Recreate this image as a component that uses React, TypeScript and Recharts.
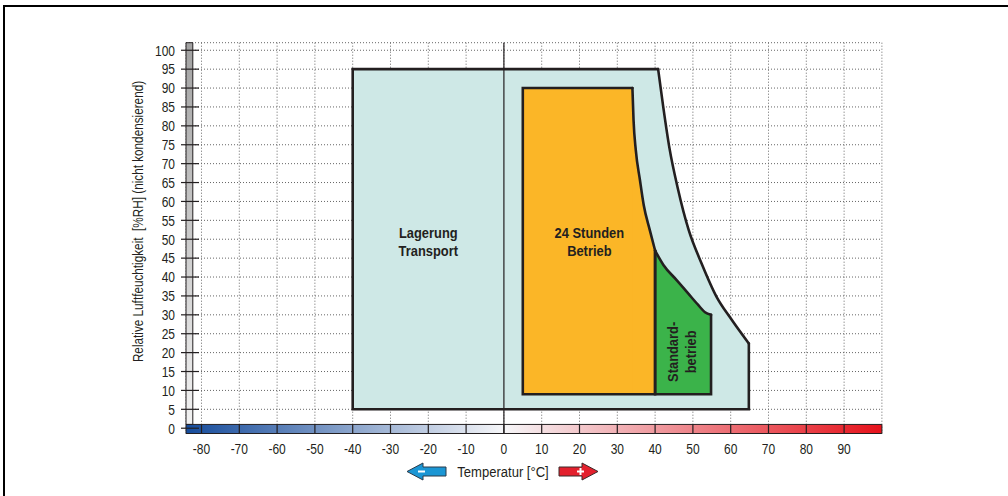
import React from "react";
import {
  ComposedChart,
  Area,
  Line,
  XAxis,
  YAxis,
  CartesianGrid,
  ReferenceArea,
  ReferenceLine,
  ReferenceDot,
} from "recharts";

const FONT = '"Liberation Sans", Arial, Helvetica, sans-serif';
const INK = "#231f20";

// axes
const tempTicks = [-80, -70, -60, -50, -40, -30, -20, -10, 0, 10, 20, 30, 40, 50, 60, 70, 80, 90];
const rhTicks = [0, 5, 10, 15, 20, 25, 30, 35, 40, 45, 50, 55, 60, 65, 70, 75, 80, 85, 90, 95, 100];
const tempDomain = [-84.1, 100];
const rhDomain = [-1.4, 102];

// Lagerung / Transport: flat top from -40 °C, then the falling edge
const transportLeft = -40;
const transportBottom = 5;
const transportCurveT = [40.8, 42.2, 43.8, 46.0, 48.9, 52.3, 56.3, 59.9, 64.8];
const transportCurveRH = [95, 84.7, 74.1, 63.5, 52.4, 43.6, 34.7, 29.2, 22.4];

// 24 Stunden Betrieb
const betriebLeft = 5;
const betriebBottom = 9;
const betriebCurveT = [34, 34.3, 34.9, 36.0, 37.0, 38.6, 40];
const betriebCurveRH = [90, 81.5, 73.5, 65.6, 59, 52.4, 47];

// Standardbetrieb
const standardBottom = 9;
const standardCurveT = [40, 42.2, 45.7, 48.8, 51.4, 53.2, 54.8];
const standardCurveRH = [47, 43.2, 39.2, 35.6, 32.6, 30.7, 30];

const zoneLabels = [
  { x: -20, y: 49.4, lines: ["Lagerung", "Transport"], rotate: false },
  { x: 22.6, y: 49.4, lines: ["24 Stunden", "Betrieb"], rotate: false },
  { x: 47, y: 20.2, lines: ["Standard-", "betrieb"], rotate: true },
];

// filled band under the curved edge
const curveFill = (ts: number[], rhs: number[], bottom: number) =>
  ts.map((t, i) => ({ x: t, r: [bottom, rhs[i]] }));

// rectangular part left of the curve (runs one point into it so no seam shows)
const rectFill = (left: number, ts: number[], rhs: number[], bottom: number) => [
  { x: left, r: [bottom, rhs[0]] },
  { x: ts[0], r: [bottom, rhs[0]] },
  { x: ts[1], r: [bottom, rhs[1]] },
];

const curveLine = (ts: number[], rhs: number[]) => ts.map((t, i) => ({ x: t, y: rhs[i] }));

// straight edges: right side down, bottom, left side up, top to the curve
const edgeLine = (left: number, ts: number[], rhs: number[], bottom: number) => {
  const n = ts.length - 1;
  return [
    { x: ts[n], y: rhs[n] },
    { x: ts[n], y: bottom },
    { x: left, y: bottom },
    { x: left, y: rhs[0] },
    { x: ts[0], y: rhs[0] },
  ];
};

function XTick({ x, y, payload }: any) {
  return (
    <g>
      <line x1={x} x2={x} y1={y - 9.5} y2={y} stroke={INK} strokeWidth={1.2} />
      <text
        transform={`translate(${x},${y + 20}) scale(0.8,1)`}
        textAnchor="middle"
        fontSize={15}
        fontFamily={FONT}
        fill={INK}
      >
        {payload.value}
      </text>
    </g>
  );
}

function YTick({ x, y, payload }: any) {
  return (
    <g>
      <line x1={x - 5} x2={x + 13} y1={y} y2={y} stroke={INK} strokeWidth={1.2} />
      <text
        transform={`translate(${x - 11},${y + 5.3}) scale(0.8,1)`}
        textAnchor="end"
        fontSize={15}
        fontFamily={FONT}
        fill={INK}
      >
        {payload.value}
      </text>
    </g>
  );
}

function YLabel() {
  const cx = 138;
  const cy = 221.5;
  return (
    <text
      transform={`translate(${cx},${cy}) rotate(-90) scale(0.81,1)`}
      textAnchor="middle"
      dominantBaseline="central"
      fontSize={14.5}
      fontFamily={FONT}
      fill={INK}
      style={{ whiteSpace: "pre" }}
    >
      Relative Luftfeuchtigkeit  [%RH] (nicht kondensierend)
    </text>
  );
}

function XLabel({ viewBox }: any) {
  const cx = viewBox.x + 317;
  const cy = viewBox.y + 38;
  const blue = [
    [cx - 96, cy], [cx - 80, cy - 8.5], [cx - 80, cy - 4.5], [cx - 57, cy - 4.5],
    [cx - 57, cy + 4.5], [cx - 80, cy + 4.5], [cx - 80, cy + 8.5],
  ];
  const red = [
    [cx + 95, cy], [cx + 79, cy - 8.5], [cx + 79, cy - 4.5], [cx + 56, cy - 4.5],
    [cx + 56, cy + 4.5], [cx + 79, cy + 4.5], [cx + 79, cy + 8.5],
  ];
  return (
    <g>
      <polygon points={blue.map((p) => p.join(",")).join(" ")} fill="#1b96d4" stroke="#2a3a4a" strokeWidth={1} />
      <line x1={cx - 85} x2={cx - 78} y1={cy} y2={cy} stroke="#fff" strokeWidth={2} />
      <polygon points={red.map((p) => p.join(",")).join(" ")} fill="#e3202d" stroke="#3a2a2a" strokeWidth={1} />
      <line x1={cx + 74} x2={cx + 81} y1={cy} y2={cy} stroke="#fff" strokeWidth={2} />
      <line x1={cx + 77.5} x2={cx + 77.5} y1={cy - 3.5} y2={cy + 3.5} stroke="#fff" strokeWidth={2} />
      <text
        transform={`translate(${cx},${cy + 5}) scale(0.87,1)`}
        textAnchor="middle"
        fontSize={15}
        fontFamily={FONT}
        fill={INK}
      >
        Temperatur [°C]
      </text>
    </g>
  );
}

function ZoneText({ viewBox, lines, rotate }: any) {
  const cx = viewBox.x + viewBox.width / 2;
  const cy = viewBox.y + viewBox.height / 2;
  const gap = rotate ? 18.5 : 17.7;
  return (
    <g transform={`translate(${cx},${cy}) ${rotate ? "rotate(-90)" : ""} scale(0.86,1)`}>
      <text textAnchor="middle" dominantBaseline="central" fontSize={15} fontWeight="bold" fontFamily={FONT} fill={INK}>
        {lines.map((s: string, i: number) => (
          <tspan key={s} x={0} y={(i - (lines.length - 1) / 2) * gap}>
            {s}
          </tspan>
        ))}
      </text>
    </g>
  );
}

const fillProps = { type: "linear" as const, fillOpacity: 1, stroke: "none", isAnimationActive: false, dataKey: "r" };
const edgeProps = {
  dataKey: "y",
  stroke: INK,
  strokeWidth: 2.6,
  strokeLinecap: "round" as const,
  dot: false,
  isAnimationActive: false,
};

export default function App() {
  return (
    <div style={{ position: "absolute", left: 0, top: 0, width: 1008, height: 496, overflow: "hidden", background: "#fff" }}>
      <div
        style={{
          position: "absolute",
          left: 3,
          top: 5,
          width: 1100,
          height: 600,
          borderLeft: "2px solid #000",
          borderTop: "2px solid #000",
        }}
      />
      <ComposedChart
        width={1008}
        height={496}
        margin={{ top: 42.7, right: 126.1, bottom: 22.5, left: 126 }}
        style={{ position: "absolute", left: 0, top: 0 }}
      >
        <defs>
          <linearGradient id="rhBar" x1="0" y1="0" x2="0" y2="1">
            <stop offset="0%" stopColor="#a2a2a2" />
            <stop offset="100%" stopColor="#f2f2f2" />
          </linearGradient>
          <linearGradient id="tempBar" x1="0" y1="0" x2="1" y2="0">
            <stop offset="0%" stopColor="#164c9c" />
            <stop offset="45.7%" stopColor="#f6f6f8" />
            <stop offset="100%" stopColor="#e6121b" />
          </linearGradient>
        </defs>
        <CartesianGrid stroke="#666" strokeDasharray="1 2" />
        <XAxis
          type="number"
          dataKey="x"
          domain={tempDomain}
          ticks={tempTicks}
          allowDataOverflow
          interval={0}
          axisLine={false}
          tickLine={false}
          tickSize={0}
          tickMargin={0}
          tick={<XTick />}
          height={40}
          label={<XLabel />}
        />
        <YAxis
          type="number"
          domain={rhDomain}
          ticks={rhTicks}
          allowDataOverflow
          interval={0}
          axisLine={false}
          tickLine={false}
          tickSize={0}
          tickMargin={0}
          tick={<YTick />}
          width={60}
          label={<YLabel />}
        />
        <Area
          {...fillProps}
          data={rectFill(transportLeft, transportCurveT, transportCurveRH, transportBottom)}
          fill="#cee8e6"
        />
        <Area
          {...fillProps}
          type="monotone"
          data={curveFill(transportCurveT, transportCurveRH, transportBottom)}
          fill="#cee8e6"
        />
        <ReferenceLine x={0} stroke={INK} strokeWidth={1.2} />
        <Area
          {...fillProps}
          data={rectFill(betriebLeft, betriebCurveT, betriebCurveRH, betriebBottom)}
          fill="#fbb627"
        />
        <Area
          {...fillProps}
          type="monotone"
          data={curveFill(betriebCurveT, betriebCurveRH, betriebBottom)}
          fill="#fbb627"
        />
        <Area
          {...fillProps}
          type="monotone"
          data={curveFill(standardCurveT, standardCurveRH, standardBottom)}
          fill="#3bb34a"
        />
        <Line {...edgeProps} type="linear" data={edgeLine(transportLeft, transportCurveT, transportCurveRH, transportBottom)} />
        <Line {...edgeProps} type="monotone" data={curveLine(transportCurveT, transportCurveRH)} />
        <Line {...edgeProps} type="linear" data={edgeLine(betriebLeft, betriebCurveT, betriebCurveRH, betriebBottom)} />
        <Line {...edgeProps} type="monotone" data={curveLine(betriebCurveT, betriebCurveRH)} />
        <Line
          {...edgeProps}
          type="linear"
          data={edgeLine(standardCurveT[0], standardCurveT, standardCurveRH, standardBottom)}
        />
        <Line {...edgeProps} type="monotone" data={curveLine(standardCurveT, standardCurveRH)} />
        <ReferenceArea x1={-84.1} x2={-82.3} y1={1.0} y2={102} fill="url(#rhBar)" fillOpacity={1} stroke={INK} strokeWidth={1} />
        <ReferenceArea x1={-84.1} x2={100} y1={-1.4} y2={1.0} fill="url(#tempBar)" fillOpacity={1} stroke={INK} strokeWidth={1} />
        {zoneLabels.map((z) => (
          <ReferenceDot
            key={z.lines[0]}
            x={z.x}
            y={z.y}
            r={0}
            fill="none"
            stroke="none"
            label={<ZoneText lines={z.lines} rotate={z.rotate} />}
          />
        ))}
      </ComposedChart>
    </div>
  );
}
